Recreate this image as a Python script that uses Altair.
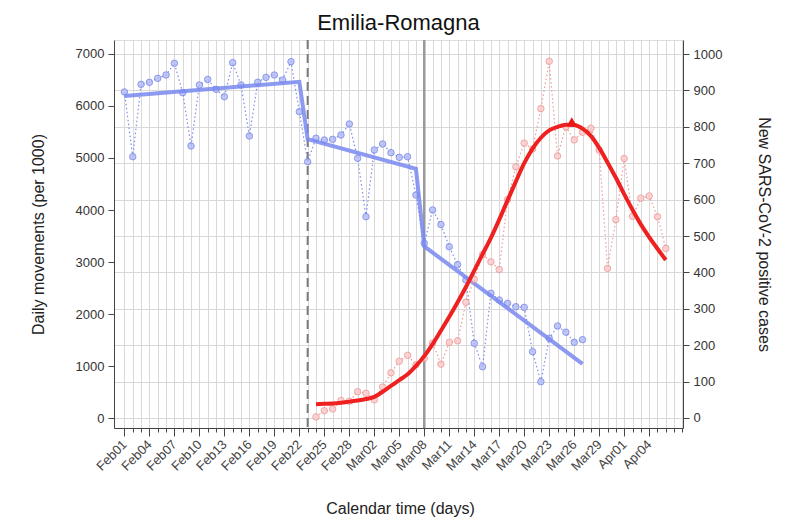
import altair as alt
import pandas as pd

TITLE = "Emilia-Romagna"
X_TITLE = "Calendar time (days)"
Y_LEFT_TITLE = "Daily movements (per 1000)"
Y_RIGHT_TITLE = "New SARS-CoV-2 positive cases"

# Daily movements (per 1000), Feb 01 .. Mar 27
blue_dates = [d.strftime("%Y-%m-%d") for d in pd.date_range("2020-02-01", "2020-03-27")]
blue_values = [6270, 5025, 6417, 6455, 6532, 6596, 6821, 6256, 5231, 6404,
               6510, 6321, 6179, 6833, 6404, 5423, 6455, 6551, 6596, 6500,
               6852, 5890, 4929, 5379, 5346, 5359, 5442, 5654, 4994, 3871,
               5154, 5269, 5102, 5013, 5025, 4288, 3359, 4000, 3720, 3294,
               2950, 2654, 1437, 987, 2398, 2269, 2205, 2140, 2128, 1275,
               698, 1532, 1769, 1650, 1457, 1507]

# Segmented fit of movements
fit_dates = ["2020-02-01", "2020-02-22", "2020-02-23", "2020-03-07", "2020-03-08", "2020-03-27"]
fit_values = [6190, 6465, 5360, 4790, 3300, 1040]

# New positive cases, Feb 24 .. Apr 06
red_dates = [d.strftime("%Y-%m-%d") for d in pd.date_range("2020-02-24", "2020-04-06")]
red_values = [3, 20, 25, 48, 46, 72, 68, 50, 85, 124,
              156, 172, 146, 164, 206, 148, 208, 212, 318, 381,
              449, 429, 408, 600, 690, 755, 739, 850, 980, 720,
              800, 764, 785, 796, 736, 411, 545, 713, 554, 604,
              610, 553, 466]
red_curve = [38, 39, 40, 42, 45, 48, 52, 58, 72, 88,
             104, 120, 143, 170, 203, 240, 278, 318, 360, 405,
             450, 495, 545, 598, 650, 700, 740, 770, 790, 800,
             806, 805, 795, 775, 742, 702, 660, 615, 572, 532,
             497, 465, 434]

peak_date = ["2020-03-25T17:00:00Z"]
peak_value = [814]

dashed_date = ["2020-02-23"]
solid_date = ["2020-03-08"]

left_ticks = list(range(0, 8000, 1000))
right_ticks = list(range(0, 1100, 100))
tick_days = [int(pd.Timestamp(d, tz="UTC").value // 10**6)
             for d in pd.date_range("2020-02-01", "2020-04-08")]
T0 = tick_days[0]

FONT = "Liberation Sans"

xscale = alt.Scale(
    type="utc",
    domain=[alt.DateTime(year=2020, month=1, date=30, hours=18, utc=True),
            alt.DateTime(year=2020, month=4, date=8, hours=1, minutes=30, utc=True)],
    nice=False,
)
major_test = f"round((datum.value - {T0}) / 86400000) % 3 == 0 && datum.value <= {tick_days[63]}"
xaxis = alt.Axis(
    values=tick_days,
    labelExpr=f"({major_test}) ? utcFormat(datum.value, '%b%d') : ''",
    labelAngle=-45, labelAlign="right", labelBaseline="middle",
    labelOverlap=False, labelFontSize=13, labelColor="#444", labelPadding=6,
    grid=True, gridColor="#d9d9d9", gridWidth=1,
    tickSize={"condition": {"test": major_test, "value": 8}, "value": 4},
    tickColor="#444", domainColor="#444",
    title=X_TITLE, titleFontSize=16, titleFontWeight="normal", titleColor="#222",
    titleX=286, titleY=80, titleAlign="center", titleBaseline="middle",
)
X = alt.X("date:T", scale=xscale, axis=xaxis)

left_axis = alt.Axis(
    values=left_ticks, format="d", grid=False, tickSize=6, tickColor="#444", domainColor="#444",
    labelFontSize=13, labelColor="#333", labelPadding=4,
    title=Y_LEFT_TITLE, titleFontSize=16, titleFontWeight="normal", titleColor="#222",
    titleX=-76, titleY=194, titleAngle=-90, titleAlign="center", titleBaseline="middle",
)
right_axis = alt.Axis(
    orient="right", values=right_ticks, format="d", grid=True, gridColor="#d9d9d9",
    tickSize=6, tickColor="#444", domainColor="#444",
    labelFontSize=13, labelColor="#333", labelPadding=4,
    title=Y_RIGHT_TITLE, titleFontSize=16, titleFontWeight="normal", titleColor="#222",
    titleX=80, titleY=194, titleAngle=90, titleAlign="center", titleBaseline="middle",
)
YL = alt.Y("value:Q", scale=alt.Scale(domain=[-192, 7269], nice=False, zero=False), axis=left_axis)
YR = alt.Y("value:Q", scale=alt.Scale(domain=[-27.5, 1038.5], nice=False, zero=False), axis=right_axis)

blue_df = pd.DataFrame({"date": blue_dates, "value": blue_values})
fit_df = pd.DataFrame({"date": fit_dates, "value": fit_values})
red_df = pd.DataFrame({"date": red_dates, "value": red_values})
curve_df = pd.DataFrame({"date": red_dates, "value": red_curve})
peak_df = pd.DataFrame({"date": peak_date, "value": peak_value})

vdash = alt.Chart(pd.DataFrame({"date": dashed_date})).mark_rule(
    color="#7a7a7a", strokeWidth=2, strokeDash=[9, 5]).encode(x=X)
vsolid = alt.Chart(pd.DataFrame({"date": solid_date})).mark_rule(
    color="#999999", strokeWidth=2.5).encode(x=X)

blue_dot = alt.Chart(blue_df).mark_line(
    color="#7d8cf0", strokeWidth=1.2, strokeDash=[1.5, 2.5]).encode(x=X, y=YL)
blue_pts = alt.Chart(blue_df).mark_circle(
    size=42, color="#b3bcf5", opacity=0.8, stroke="#6f80ea", strokeWidth=1).encode(x=X, y=YL)
blue_fit = alt.Chart(fit_df).mark_line(
    color="#7888ee", strokeWidth=4, opacity=0.85).encode(x=X, y=YL)

red_dot = alt.Chart(red_df).mark_line(
    color="#f29a9a", strokeWidth=1.2, strokeDash=[1.5, 2.5]).encode(x=X, y=YR)
red_pts = alt.Chart(red_df).mark_circle(
    size=42, color="#f9cccc", opacity=0.8, stroke="#ef9090", strokeWidth=1).encode(x=X, y=YR)
red_line = alt.Chart(curve_df).mark_line(
    color="#ee2020", strokeWidth=4, interpolate="monotone").encode(x=X, y=YR)
red_peak = alt.Chart(peak_df).mark_point(
    shape="triangle-up", size=110, filled=True, color="#e81818", opacity=1).encode(x=X, y=YR)

title_mark = alt.Chart(pd.DataFrame({"t": [TITLE]})).mark_text(
    fontSize=22, color="#111", align="center", baseline="middle", font=FONT
).encode(text="t:N", x=alt.value(284.5), y=alt.value(-17))

left = alt.layer(vdash, vsolid, blue_dot, blue_pts, blue_fit, title_mark)
right = alt.layer(red_dot, red_pts, red_line, red_peak)

chart = alt.layer(left, right).resolve_scale(y="independent").properties(
    width=569, height=388,
    autosize=alt.AutoSizeParams(type="none"),
    padding={"left": 106, "top": 32, "right": 99, "bottom": 90},
).configure_view(stroke="#888888", strokeWidth=1).configure(font=FONT)

chart.save("out.html", embed_options={"renderer": "svg", "actions": False})
